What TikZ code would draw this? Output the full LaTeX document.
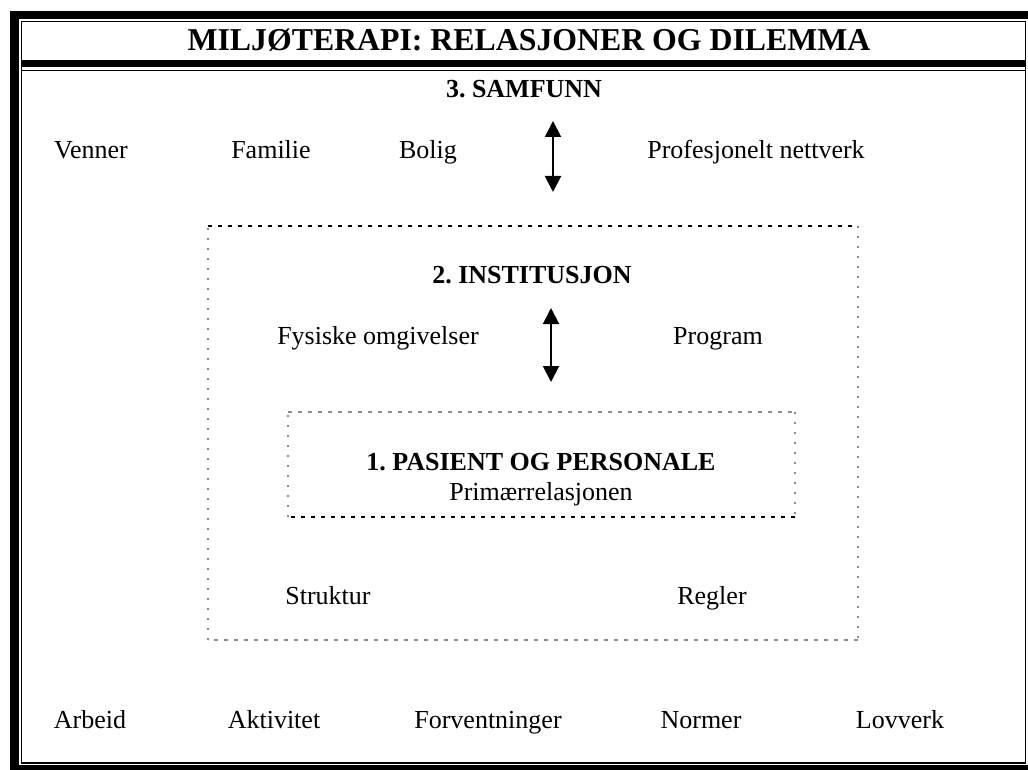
\documentclass[tikz,border=0pt]{standalone}
\usepackage{fontspec}
\setmainfont{Liberation Serif}
\usetikzlibrary{arrows.meta}
\frenchspacing
\begin{document}
\begin{tikzpicture}[x=1pt,y=-1pt,
  lbl/.style={anchor=base,inner sep=0pt,font=\fontsize{26}{30}\selectfont},
  hdr/.style={anchor=base,inner sep=0pt,font=\fontsize{26}{30}\selectfont\bfseries},
  ttl/.style={anchor=base,inner sep=0pt,font=\fontsize{31.8}{36}\selectfont\bfseries},
  darkdash/.style={line width=2.2pt,dash pattern=on 4pt off 6pt,black},
  greydot/.style={line width=1.6pt,dash pattern=on 2pt off 8pt,black!45},
  greydash/.style={line width=1.4pt,dash pattern=on 4pt off 6pt,black!45},
  dblarrow/.style={line width=2pt,{Triangle[width=16pt,length=16pt]}-{Triangle[width=16pt,length=16pt]}}]
\useasboundingbox (0,0) rectangle (1028,770);
\fill[white] (0,0) rectangle (1028,770);
% frame
\fill[black] (10,11) rectangle (19,770);
\fill[black] (10,11) rectangle (1028,19);
\fill[black] (10,765) rectangle (1028,770);
\fill[black] (21,60) rectangle (1026,67);
\draw[line width=1.2pt] (21.6,21.6) rectangle (1025.6,763);
\draw[line width=1.2pt] (21.6,70.6) -- (1025.6,70.6);
% title
\node[ttl] (title) at (529,51) {MILJØTERAPI: RELASJONER OG DILEMMA};
% level 3
\node[hdr] (samf) at (524,98) {3. SAMFUNN};
\node[lbl] (venner) at (91,159) {Venner};
\node[lbl] (familie) at (271,159) {Familie};
\node[lbl] (bolig) at (428,159) {Bolig};
\node[lbl] (prof) at (756,159) {Profesjonelt nettverk};
\coordinate (a1t) at (553,121);
\coordinate (a1b) at (553,192);
\draw[dblarrow] (a1t) -- (a1b);
% institution box
\coordinate (ib1) at (208,226);
\coordinate (ib2) at (858,226);
\coordinate (ib3) at (858,640);
\coordinate (ib4) at (208,640);
\draw[greydot] (ib2) -- (ib3);
\draw[greydash] (ib3) -- (ib4);
\draw[greydot] (ib4) -- (ib1);
\draw[darkdash] (ib1) -- (ib2);
\node[hdr] (inst) at (532,283) {2. INSTITUSJON};
\node[lbl] (fys) at (378,344) {Fysiske omgivelser};
\node[lbl] (prog) at (718,344) {Program};
\coordinate (a2t) at (551,308);
\coordinate (a2b) at (551,382);
\draw[dblarrow] (a2t) -- (a2b);
\node[lbl] (strukt) at (328,604) {Struktur};
\node[lbl] (regler) at (712,604) {Regler};
% patient box
\coordinate (pb1) at (288,412);
\coordinate (pb2) at (795,412);
\coordinate (pb3) at (795,517);
\coordinate (pb4) at (288,517);
\draw[greydash] (pb1) -- (pb2);
\draw[greydot] (pb2) -- (pb3);
\draw[greydot] (pb4) -- (pb1);
\draw[darkdash] (pb3) -- (pb4);
\node[hdr] (pas) at (541,470) {1. PASIENT OG PERSONALE};
\node[lbl] (prim) at (541,500) {Primærrelasjonen};
% bottom row
\node[lbl] (arbeid) at (90,728) {Arbeid};
\node[lbl] (aktiv) at (274,728) {Aktivitet};
\node[lbl] (forv) at (488,728) {Forventninger};
\node[lbl] (normer) at (701,728) {Normer};
\node[lbl] (lov) at (900,728) {Lovverk};
\end{tikzpicture}
\end{document}
